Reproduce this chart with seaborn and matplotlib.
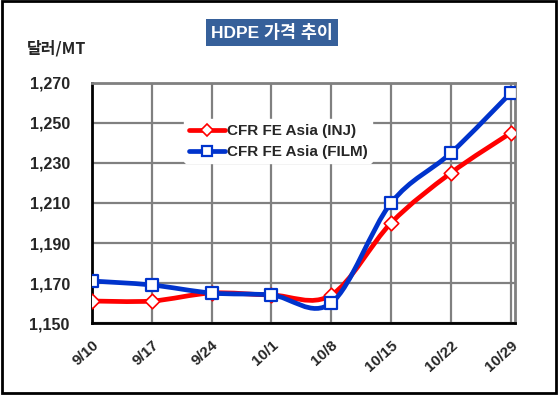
import numpy as np
import pandas as pd
import matplotlib
matplotlib.use("Agg")
import matplotlib.pyplot as plt
import matplotlib.transforms as mtransforms
from matplotlib.path import Path
from matplotlib.patches import PathPatch, Rectangle
from matplotlib.lines import Line2D
import seaborn as sns

# data
dates = ['9/10', '9/17', '9/24', '10/1', '10/8', '10/15', '10/22', '10/29']
inj = [1161, 1161, 1165, 1164, 1164, 1200, 1225, 1245]
film = [1171, 1169, 1165, 1164, 1160, 1210, 1235, 1265]
yticks = [1150, 1170, 1190, 1210, 1230, 1250, 1270]

red = '#FF0000'
blue = '#0033CC'

sns.set_style("white")
plt.rcParams['font.family'] = ['Liberation Sans', 'Noto Sans CJK KR', 'DejaVu Sans']
plt.rcParams['font.weight'] = 'bold'

df = pd.DataFrame({'x': np.arange(len(dates)), 'INJ': inj, 'FILM': film})

fig = plt.figure(figsize=(5.59, 3.98), dpi=100)
ax = fig.add_axes([0.1646, 0.1884, 0.921 - 0.1646, 0.7915 - 0.1884])


def smooth_path(xs, ys):
    # excel-like smoothed line: bezier segments with catmull-rom control points
    p = np.column_stack([xs, ys]).astype(float)
    pp = np.vstack([p[0], p, p[-1]])
    verts = [p[0]]
    codes = [Path.MOVETO]
    for i in range(len(p) - 1):
        p0, p1, p2, p3 = pp[i], pp[i + 1], pp[i + 2], pp[i + 3]
        verts += [p1 + (p2 - p0) / 6, p2 - (p3 - p1) / 6, p2]
        codes += [Path.CURVE4] * 3
    return Path(verts, codes)


ax.add_patch(PathPatch(smooth_path(df['x'], df['INJ']), fill=False, edgecolor=red, lw=3.4, zorder=3))
sns.scatterplot(data=df, x='x', y='INJ', marker='D', s=55, facecolor='white', edgecolor=red,
                linewidth=1.2, ax=ax, zorder=4)
ax.add_patch(PathPatch(smooth_path(df['x'], df['FILM']), fill=False, edgecolor=blue, lw=3.4, zorder=5))
sns.scatterplot(data=df, x='x', y='FILM', marker='s', s=85, facecolor='white', edgecolor=blue,
                linewidth=1.6, ax=ax, zorder=6)

ax.set_xlim(0, 7.07)
ax.set_ylim(1150, 1270)
ax.set_yticks(yticks)
ax.set_yticklabels([f'{v:,}' for v in yticks], fontsize=11.5, fontweight='bold')
ax.set_xticks(df['x'])
ax.set_xticklabels(dates, fontsize=11, fontweight='bold', rotation=42, ha='right', rotation_mode='anchor')
offset = mtransforms.ScaledTranslation(6 / 72, 0, fig.dpi_scale_trans)
for lbl in ax.get_xticklabels():
    lbl.set_transform(lbl.get_transform() + offset)
ax.set_xlabel('')
ax.set_ylabel('')
ax.tick_params(axis='y', direction='out', length=4, width=1.5, color='black', pad=12)
ax.tick_params(axis='x', direction='inout', length=6, width=1.5, color='black', pad=8)

ax.grid(True, color='#808080', lw=1.6)
ax.set_axisbelow(True)
for s in ['top', 'right']:
    ax.spines[s].set_color('#808080')
    ax.spines[s].set_linewidth(2)
for s in ['left', 'bottom']:
    ax.spines[s].set_color('black')
    ax.spines[s].set_linewidth(2)

handles = [
    Line2D([], [], color=red, lw=3.4, marker='D', markersize=6.5, markerfacecolor='white',
           markeredgecolor=red, markeredgewidth=1.2),
    Line2D([], [], color=blue, lw=3.4, marker='s', markersize=7.5, markerfacecolor='white',
           markeredgecolor=blue, markeredgewidth=1.6),
]
leg = ax.legend(handles, ['CFR FE Asia (INJ)', 'CFR FE Asia (FILM)'], loc='upper left',
                bbox_to_anchor=(0.2, 0.88), frameon=True, framealpha=1, edgecolor='white',
                prop={'weight': 'bold', 'size': 11}, handlelength=2.4, handletextpad=0.1,
                labelspacing=0.45, borderpad=0.3)
leg.set_zorder(10)

fig.text(0.048, 0.88, '달러/MT', fontsize=11.5, fontweight='bold',
         family=['Noto Sans CJK KR', 'Liberation Sans'], va='center', ha='left')

# title box
fig.text(0.487, 0.918, 'HDPE 가격 추이', fontsize=12.5, fontweight='bold', color='white',
         family=['Liberation Sans', 'Noto Sans CJK KR'], ha='center', va='center',
         bbox=dict(boxstyle='square,pad=0.3', facecolor='#36609A', edgecolor='none'))

# outer border
fig.patches.append(Rectangle((0.003, 0.013), 0.992, 0.984, transform=fig.transFigure,
                             fill=False, edgecolor='black', lw=2))

fig.savefig('out.png', dpi=100)
